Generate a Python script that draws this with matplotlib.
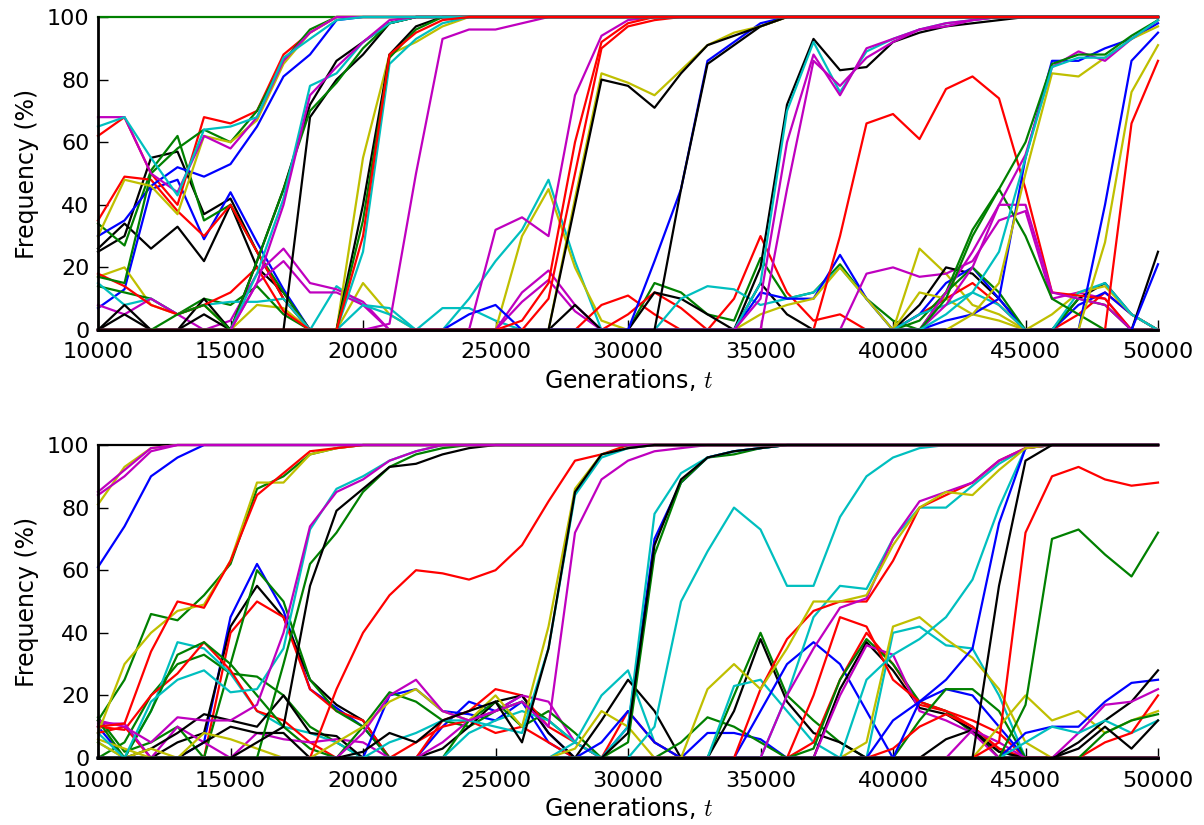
import matplotlib
matplotlib.use("Agg")
import matplotlib.pyplot as plt

plt.rcParams['mathtext.fontset'] = 'cm'

# sampling grid, one point per 1000 generations
gens = list(range(10000, 50001, 1000))

# ---------------- top panel trajectories (frequency %) ----------------
t_grn_fix = [100] * 41
t_red_a = [62, 68, 50, 40, 68, 66, 70, 88, 95] + [100] * 32
t_mag_a = [68, 68, 50, 44, 62, 58, 68, 86, 95] + [100] * 32
t_yel_a = [30, 48, 46, 37, 62, 60, 67, 85, 95] + [100] * 32
t_blu_a = [30, 35, 46, 52, 49, 53, 65, 81, 88, 99] + [100] * 31
t_grn_a = [17, 15, 50, 58, 64, 60, 70, 86, 96] + [100] * 32
t_cyn_a = [65, 68, 55, 43, 64, 65, 68, 87, 93, 99] + [100] * 31

t_blk_d1 = [26, 34, 26, 33, 22, 40, 20, 12] + [0] * 33
t_blk_d2 = [25, 30, 55, 57, 37, 42, 25, 10] + [0] * 33
t_blu_d = [7, 13, 45, 48, 29, 44, 28, 13] + [0] * 33
t_grn_d = [34, 27, 51, 62, 35, 40, 25, 12] + [0] * 33
t_red_d = [35, 49, 48, 38, 30, 40, 25, 10] + [0] * 33

t_yel_l1 = [17, 20, 8, 5, 8, 0, 8, 7, 0, 0, 15, 5] + [0] * 29
t_grn_l1 = [14, 12, 10, 5, 10, 8, 14, 5] + [0] * 33
t_cyn_l1 = [15, 8, 10, 5, 8, 9, 9, 10, 0, 14, 8, 7] + [0] * 29
t_mag_l1 = [8, 5, 10, 5, 0, 0, 15, 22, 12, 12, 8] + [0] * 30
t_mag_l2 = [0, 0, 0, 0, 0, 3, 18, 26, 15, 13, 9, 0] + [0] * 29
t_blk_l1 = [0, 8, 0, 0, 10, 0] + [0] * 35
t_red_l1 = [18, 14, 8, 5, 8, 12, 20, 6] + [0] * 33

t_blk_b1 = [0] * 6 + [22, 45, 72, 86, 92, 98] + [100] * 29
t_blk_b2 = [0, 5, 0, 0, 5, 0, 0, 0, 68, 80, 88, 98] + [100] * 29
t_grn_b = [0, 0, 0, 5, 8, 0, 22, 45, 70, 79, 90, 98] + [100] * 29
t_cyn_b = [0] * 6 + [18, 42, 78, 82, 92, 98] + [100] * 29
t_mag_b = [0] * 6 + [15, 40, 75, 84, 92, 99] + [100] * 29

t_yel_c = [0] * 10 + [55, 88, 92, 97] + [100] * 27
t_cyn_c = [0] * 10 + [25, 85, 93, 98] + [100] * 27
t_blk_c = [0] * 10 + [40, 88, 97] + [100] * 28
t_grn_c = [0] * 10 + [35, 87, 96] + [100] * 28
t_red_c = [0] * 10 + [30, 88, 95, 99] + [100] * 27

t_mag_m = [0] * 11 + [2, 50, 93, 96, 96, 98] + [100] * 24

t_cyn_l2 = [0] * 10 + [8, 5, 0, 7, 7, 3] + [0] * 25
t_cyn_l3 = [0] * 13 + [0, 10, 22, 32, 48, 22] + [0] * 22
t_yel_l3 = [0] * 15 + [0, 30, 45, 20, 3] + [0] * 21
t_mag_l4 = [0] * 15 + [0, 12, 19, 8] + [0] * 22
t_mag_l4b = [0] * 15 + [0, 9, 16, 6] + [0] * 22
t_blu_l2 = [0] * 14 + [5, 8] + [0] * 25
t_red_l2 = [0] * 19 + [8, 11, 5] + [0] * 19
t_blk_l2 = [0] * 17 + [0, 8] + [0] * 22

t_red_d1 = [0] * 16 + [0, 10, 50, 90, 97, 99] + [100] * 19
t_red_d2 = [0] * 16 + [3, 15, 60, 92, 98] + [100] * 20
t_mag_d = [0] * 14 + [0, 32, 36, 30, 75, 94, 99] + [100] * 20

t_blk_e = [0] * 17 + [0, 40, 80, 78, 71, 82, 91, 94, 97] + [100] * 15
t_yel_e = [0] * 17 + [0, 42, 82, 79, 75, 83, 91, 95, 97] + [100] * 15
t_blu_e = [0] * 20 + [0, 22, 45, 86, 92, 98] + [100] * 15
t_blk_e2 = [0] * 21 + [0, 45, 85, 91, 97] + [100] * 15

t_blk_f = [0] * 24 + [0, 20, 72, 93, 83, 84, 92, 95, 97, 98, 99] + [100] * 6
t_mag_f1 = [0] * 24 + [0, 10, 60, 88, 75, 90, 93, 96, 97, 99] + [100] * 7
t_cyn_f = [0] * 24 + [0, 15, 70, 92, 76, 89, 93, 96, 98, 99] + [100] * 7
t_mag_f2 = [0] * 25 + [0, 45, 86, 78, 87, 92, 96, 98, 99] + [100] * 7

t_red_r = [0] * 28 + [30, 66, 69, 61, 77, 81, 74, 45, 12, 11, 10, 0, 0]

t_blu_g = [0] * 32 + [3, 5, 10, 55, 86, 86, 90, 93, 98]
t_cyn_g = [0] * 32 + [5, 12, 25, 55, 84, 87, 87, 93, 99]
t_grn_g = [0] * 32 + [10, 30, 45, 60, 85, 88, 88, 94, 99]
t_mag_g = [0] * 32 + [12, 25, 40, 56, 84, 89, 86, 93, 99]
t_yel_g = [0] * 32 + [0, 5, 15, 50, 82, 81, 87, 93, 97]
t_grn_pk = [0] * 32 + [12, 32, 45, 30, 10, 5, 0, 0, 0]
t_mag_pk = [0] * 32 + [8, 20, 40, 40, 12, 10, 8, 0, 0]

t_blu_h = [0] * 37 + [0, 40, 86, 95]
t_yel_h = [0] * 37 + [0, 28, 76, 91]
t_red_h = [0] * 38 + [0, 66, 86]
t_blk_end = [0] * 39 + [0, 25]
t_blu_end = [0] * 39 + [0, 21]

t_grn_l3 = [0] * 20 + [0, 15, 12, 5, 3, 23, 10, 12, 21, 10, 3] + [0] * 10
t_red_l3 = [0] * 20 + [5, 12, 7, 0, 10, 30, 12, 3, 5] + [0] * 12
t_blk_l3 = [0] * 20 + [0, 12, 10, 5, 0, 15, 5] + [0] * 14
t_cyn_l4 = [0] * 21 + [0, 10, 14, 13, 8, 10, 12, 20, 10] + [0] * 11
t_blu_l3 = [0] * 24 + [0, 12, 10, 10, 24, 10] + [0] * 11
t_yel_l4 = [0] * 25 + [5, 8, 10, 20, 10, 0, 26, 18, 8, 5] + [0] * 6
t_mag_l5 = [0] * 28 + [0, 18, 20, 17, 18, 22, 35, 38, 10, 12, 10, 0, 0]

t_blk_l4 = [0] * 30 + [0, 8, 20, 18, 10, 0, 0, 10, 15, 5, 0]
t_red_l4 = [0] * 30 + [0, 5, 10, 15, 8, 0, 0, 5, 12, 5, 0]
t_blu_l4 = [0] * 30 + [0, 5, 15, 20, 10, 0, 0, 8, 12, 5, 0]
t_grn_l4 = [0] * 30 + [0, 3, 12, 20, 12, 0, 0, 10, 8, 0, 0]
t_yel_l5 = [0] * 30 + [0, 12, 10, 5, 3, 0, 5, 12, 14, 5, 0]
t_cyn_l5 = [0] * 30 + [0, 5, 8, 12, 8, 0, 0, 12, 15, 5, 0]

# draw order matters: the last line sitting at 100 is the one seen on top
top_lines = [
    (t_grn_fix, 'g'),
    (t_blk_d1, 'k'), (t_blk_d2, 'k'), (t_blu_d, 'b'), (t_grn_d, 'g'), (t_red_d, 'r'),
    (t_yel_l1, 'y'), (t_grn_l1, 'g'), (t_cyn_l1, 'c'), (t_mag_l1, 'm'), (t_mag_l2, 'm'),
    (t_blk_l1, 'k'), (t_red_l1, 'r'),
    (t_cyn_l2, 'c'), (t_cyn_l3, 'c'), (t_yel_l3, 'y'), (t_mag_l4, 'm'), (t_mag_l4b, 'm'),
    (t_blu_l2, 'b'), (t_red_l2, 'r'), (t_blk_l2, 'k'),
    (t_grn_l3, 'g'), (t_red_l3, 'r'), (t_blk_l3, 'k'), (t_cyn_l4, 'c'), (t_blu_l3, 'b'),
    (t_yel_l4, 'y'), (t_mag_l5, 'm'),
    (t_blk_l4, 'k'), (t_red_l4, 'r'), (t_blu_l4, 'b'), (t_grn_l4, 'g'), (t_yel_l5, 'y'),
    (t_cyn_l5, 'c'),
    (t_red_r, 'r'), (t_grn_pk, 'g'), (t_mag_pk, 'm'),
    (t_blu_h, 'b'), (t_yel_h, 'y'), (t_red_h, 'r'), (t_blk_end, 'k'), (t_blu_end, 'b'),
    (t_blu_g, 'b'), (t_yel_g, 'y'), (t_mag_g, 'm'), (t_grn_g, 'g'), (t_cyn_g, 'c'),
    (t_blk_f, 'k'), (t_cyn_f, 'c'), (t_mag_f2, 'm'), (t_mag_f1, 'm'),
    (t_blu_e, 'b'), (t_blk_e2, 'k'), (t_yel_e, 'y'), (t_blk_e, 'k'),
    (t_mag_d, 'm'), (t_red_d1, 'r'), (t_red_d2, 'r'),
    (t_mag_m, 'm'),
    (t_yel_c, 'y'), (t_cyn_c, 'c'), (t_blk_c, 'k'), (t_grn_c, 'g'),
    (t_blk_b1, 'k'), (t_blk_b2, 'k'), (t_grn_b, 'g'), (t_cyn_b, 'c'), (t_mag_b, 'm'),
    (t_red_a, 'r'), (t_blu_a, 'b'), (t_grn_a, 'g'), (t_yel_a, 'y'), (t_mag_a, 'm'),
    (t_cyn_a, 'c'),
    (t_red_c, 'r'),
]

# ---------------- bottom panel trajectories ----------------
b_blk_fix = [100] * 41
b_yel_a = [81, 93, 99] + [100] * 38
b_mag_a2 = [84, 90, 98] + [100] * 38
b_blu_a = [61, 74, 90, 96] + [100] * 37
b_mag_a = [85, 92, 99] + [100] * 38

b_grn_b = [12, 25, 46, 44, 52, 62, 86, 90, 97, 99] + [100] * 31
b_yel_b = [8, 30, 40, 47, 49, 63, 88, 88, 97, 99] + [100] * 31
b_red_b = [10, 11, 34, 50, 48, 63, 84, 91, 98, 99] + [100] * 31

b_blu_p = [10, 0, 0, 0, 5, 45, 62, 47, 22, 16, 10, 0, 0, 10, 18, 15, 20, 8] + [0] * 23
b_blk_p = [0, 0, 0, 5, 8, 42, 55, 45, 25, 17, 12] + [0] * 30
b_red_p = [8, 10, 0, 0, 0, 40, 50, 45, 22, 15, 12] + [0] * 30
b_grn_p = [13, 2, 5, 10, 0, 30, 60, 50, 25, 15, 10] + [0] * 30
b_grn_q = [0, 5, 20, 30, 33, 27, 26, 20, 10, 5] + [0] * 31

b_cyn_1 = [5, 0, 15, 37, 35, 27, 15, 10, 8, 5] + [0] * 31
b_cyn_c = [8, 0, 18, 25, 28, 21, 22, 35, 73, 86, 90, 95, 98] + [100] * 28
b_red_2 = [10, 9, 20, 27, 37, 28, 15, 12, 5] + [0] * 32
b_grn_2 = [12, 0, 15, 33, 37, 30, 20, 10, 3] + [0] * 32
b_mag_c = [12, 10, 5, 13, 12, 12, 17, 40, 74, 85, 89, 95, 98] + [100] * 28
b_mag_2 = [11, 11, 0, 10, 5, 0, 8, 6, 5, 6, 5] + [0] * 30
b_blk_2 = [0, 0, 3, 8, 14, 12, 10, 20, 8, 7] + [0] * 31
b_blk_3 = [0, 0, 0, 0, 5, 10, 8, 8] + [0] * 33
b_yel_2 = [5, 0, 3, 0, 8, 6, 3] + [0] * 34

b_red_s = [0] * 9 + [22, 40, 52, 60, 59, 57, 60, 68, 82, 95, 97] + [100] * 21
b_grn_c = [0] * 7 + [30, 62, 72, 85, 93, 97, 99] + [100] * 27
b_blk_c = [0] * 6 + [5, 10, 55, 79, 86, 93, 94, 97, 99] + [100] * 26

b_yel_d = [6, 3, 0, 0, 0, 0, 0, 0, 0, 5, 10, 18, 22, 15, 12, 20, 10, 42, 86, 97, 99] + [100] * 20
b_blk_d = [0] * 10 + [2, 8, 5, 12, 15, 18, 5, 35, 85, 97, 99] + [100] * 20
b_cyn_d = [0] * 10 + [0, 5, 8, 12, 12, 10, 8, 35, 84, 96, 99] + [100] * 20
b_mag_d = [0] * 10 + [8, 20, 25, 15, 12, 15, 18, 10, 72, 89, 95, 98, 99] + [100] * 18

b_blu_l = [0] * 10 + [0, 20, 22, 15, 14, 12, 18, 5] + [0] * 23
b_grn_l = [0] * 10 + [10, 21, 18, 12, 10, 15, 18, 12, 5] + [0] * 22
b_red_l = [0] * 12 + [0, 12, 15, 22, 20, 10, 5] + [0] * 22
b_red_l2 = [0] * 12 + [5, 10, 12, 8, 10, 5] + [0] * 23
b_blk_l = [0] * 12 + [0, 3, 10, 18, 20, 8] + [0] * 23
b_mag_l = [0] * 13 + [5, 12, 15, 20, 18, 5] + [0] * 22
b_grn_l2 = [0] * 13 + [0, 12, 18, 10, 15, 8] + [0] * 22
b_cyn_l = [0] * 13 + [0, 8, 12, 15, 12, 5] + [0] * 22
b_cyn_l2 = [0] * 17 + [0, 5, 20, 28, 5] + [0] * 19
b_blk_l2 = [0] * 18 + [0, 12, 25, 15] + [0] * 19
b_red_l3 = [0] * 19 + [0, 15, 5] + [0] * 19
b_yel_l = [0] * 18 + [3, 15, 10] + [0] * 20
b_blu_l2 = [0] * 19 + [5, 15, 5, 0, 8, 8, 6] + [0] * 15
b_grn_l3 = [0] * 21 + [0, 5, 13, 10, 5] + [0] * 15

b_blu_e = [0] * 19 + [0, 10, 70, 88, 96, 98, 99] + [100] * 15
b_grn_e = [0] * 19 + [0, 5, 65, 88, 96, 97, 99] + [100] * 15
b_cyn_e = [0] * 19 + [0, 10, 78, 91, 96, 98, 99] + [100] * 15
b_blk_e = [0] * 19 + [0, 8, 68, 89, 96, 98, 99] + [100] * 15
b_cyn_s = [0] * 20 + [0, 10, 50, 66, 80, 73, 55, 55, 77, 90, 96, 99] + [100] * 9

b_grn_pk = [0] * 23 + [0, 20, 40, 20, 12, 5] + [0] * 12
b_blk_pk = [0] * 23 + [0, 15, 38, 18, 8, 5] + [0] * 12
b_cyn_l3 = [0] * 23 + [0, 23, 25, 15, 5] + [0] * 13
b_blu_pk = [0] * 24 + [0, 15, 30, 37, 30, 15] + [0] * 11

b_yel_f = [0] * 22 + [0, 22, 30, 22, 35, 50, 50, 52, 68, 80, 85, 84, 92, 99] + [100] * 5
b_red_f = [0] * 24 + [0, 22, 38, 47, 50, 50, 63, 80, 84, 88, 95, 99] + [100] * 5
b_red_f2 = [0] * 26 + [0, 20, 45, 42, 25, 18, 15, 12, 8, 0] + [0] * 5
b_mag_f = [0] * 25 + [0, 20, 35, 48, 51, 70, 82, 85, 88, 95, 99] + [100] * 5
b_cyn_f = [0] * 25 + [0, 20, 45, 55, 54, 70, 80, 80, 87, 94, 99] + [100] * 5

b_red_h = [0] * 26 + [0, 5, 25, 40, 30, 17, 15, 10, 3] + [0] * 6
b_grn_h = [0] * 26 + [0, 3, 25, 38, 30, 18, 15, 8, 2] + [0] * 6
b_blk_h = [0] * 26 + [0, 0, 22, 37, 28, 16, 14, 9, 0] + [0] * 6
b_mag_h = [0] * 26 + [0, 0, 20, 36, 33, 15, 12, 8, 0] + [0] * 6
b_cyn_h = [0] * 29 + [0, 40, 42, 36, 35, 20, 0] + [0] * 5
b_yel_h = [0] * 29 + [5, 42, 45, 38, 32, 22, 5] + [0] * 5
b_cyn_g = [0] * 29 + [25, 33, 38, 45, 57, 80, 99] + [100] * 5
b_blu_s = [0] * 30 + [0, 18, 25, 35, 75, 99] + [100] * 5
b_blk_s = [0] * 33 + [0, 55, 95] + [100] * 5

b_red_late = [0] * 34 + [5, 72, 90, 93, 89, 87, 88]
b_grn_late = [0] * 34 + [0, 17, 70, 73, 65, 58, 72]

b_blu_m = [0] * 29 + [0, 12, 18, 22, 20, 10, 0] + [0] * 5
b_grn_m = [0] * 30 + [0, 12, 22, 22, 15, 0] + [0] * 5
b_red_m = [0] * 30 + [3, 10, 14, 10, 3, 0] + [0] * 5
b_blk_m = [0] * 31 + [0, 6, 9, 2, 0] + [0] * 5
b_mag_m = [0] * 32 + [0, 9, 5, 0] + [0] * 5

b_yel_end = [0] * 33 + [0, 10, 20, 12, 15, 8, 12, 15]
b_blu_end = [0] * 34 + [0, 8, 10, 10, 18, 24, 25]
b_blk_end = [0] * 36 + [0, 5, 12, 18, 28]
b_mag_end = [0] * 36 + [0, 8, 17, 18, 22]
b_cyn_end = [0] * 35 + [5, 10, 8, 12, 8, 12]
b_red_end = [0] * 37 + [0, 5, 8, 20]
b_grn_end = [0] * 37 + [0, 8, 12, 14]
b_blk_end2 = [0] * 37 + [3, 10, 3, 12]

bottom_lines = [
    (b_blk_fix, 'k'),
    (b_blu_p, 'b'), (b_blk_p, 'k'), (b_red_p, 'r'), (b_grn_p, 'g'), (b_grn_q, 'g'),
    (b_cyn_1, 'c'), (b_red_2, 'r'), (b_grn_2, 'g'), (b_mag_2, 'm'), (b_blk_2, 'k'),
    (b_blk_3, 'k'), (b_yel_2, 'y'),
    (b_blu_l, 'b'), (b_grn_l, 'g'), (b_red_l, 'r'), (b_red_l2, 'r'), (b_blk_l, 'k'),
    (b_mag_l, 'm'), (b_grn_l2, 'g'), (b_cyn_l, 'c'), (b_cyn_l2, 'c'), (b_blk_l2, 'k'),
    (b_red_l3, 'r'), (b_yel_l, 'y'), (b_blu_l2, 'b'), (b_grn_l3, 'g'),
    (b_grn_pk, 'g'), (b_blk_pk, 'k'), (b_cyn_l3, 'c'), (b_blu_pk, 'b'),
    (b_red_h, 'r'), (b_grn_h, 'g'), (b_blk_h, 'k'), (b_mag_h, 'm'), (b_cyn_h, 'c'),
    (b_yel_h, 'y'), (b_red_f2, 'r'),
    (b_blu_m, 'b'), (b_grn_m, 'g'), (b_red_m, 'r'), (b_blk_m, 'k'), (b_mag_m, 'm'),
    (b_yel_end, 'y'), (b_blu_end, 'b'), (b_blk_end, 'k'), (b_mag_end, 'm'),
    (b_cyn_end, 'c'), (b_red_end, 'r'), (b_grn_end, 'g'), (b_blk_end2, 'k'),
    (b_red_late, 'r'), (b_grn_late, 'g'),
    (b_cyn_g, 'c'), (b_blu_s, 'b'),
    (b_cyn_f, 'c'), (b_red_f, 'r'), (b_mag_f, 'm'), (b_yel_f, 'y'),
    (b_cyn_s, 'c'),
    (b_blu_e, 'b'), (b_grn_e, 'g'), (b_cyn_e, 'c'), (b_blk_e, 'k'),
    (b_red_s, 'r'),
    (b_yel_d, 'y'), (b_cyn_d, 'c'), (b_mag_d, 'm'),
    (b_cyn_c, 'c'), (b_grn_c, 'g'), (b_blk_c, 'k'), (b_mag_c, 'm'),
    (b_grn_b, 'g'), (b_yel_b, 'y'), (b_red_b, 'r'),
    (b_yel_a, 'y'), (b_blu_a, 'b'), (b_mag_a2, 'm'), (b_mag_a, 'm'),
    (b_blk_d, 'k'), (b_blk_s, 'k'),
]

fig = plt.figure(figsize=(12.04, 8.25), dpi=100)
ax_top = fig.add_axes([0.0814, 0.6, 0.8804, 0.3794])
ax_bot = fig.add_axes([0.0814, 0.0812, 0.8804, 0.3794])

for ax, lines in [(ax_top, top_lines), (ax_bot, bottom_lines)]:
    for vals, col in lines:
        ax.plot(gens, vals, color=col, lw=1.6, clip_on=False)
    ax.set_xlim(10000, 50000)
    ax.set_ylim(0, 100)
    ax.set_xticks(range(10000, 50001, 5000))
    ax.set_yticks(range(0, 101, 20))
    ax.spines['top'].set_visible(False)
    ax.spines['right'].set_visible(False)
    ax.spines['left'].set_linewidth(2)
    ax.spines['bottom'].set_linewidth(2)
    ax.tick_params(direction='in', length=7, width=1, labelsize=16,
                   top=False, right=False)
    ax.tick_params(axis='x', pad=9)
    ax.tick_params(axis='y', pad=6)
    ax.set_xlabel("Generations, $t$", fontsize=17, labelpad=3)
    ax.set_ylabel("Frequency (%)", fontsize=17, labelpad=6)

fig.savefig("out.png", dpi=100)
